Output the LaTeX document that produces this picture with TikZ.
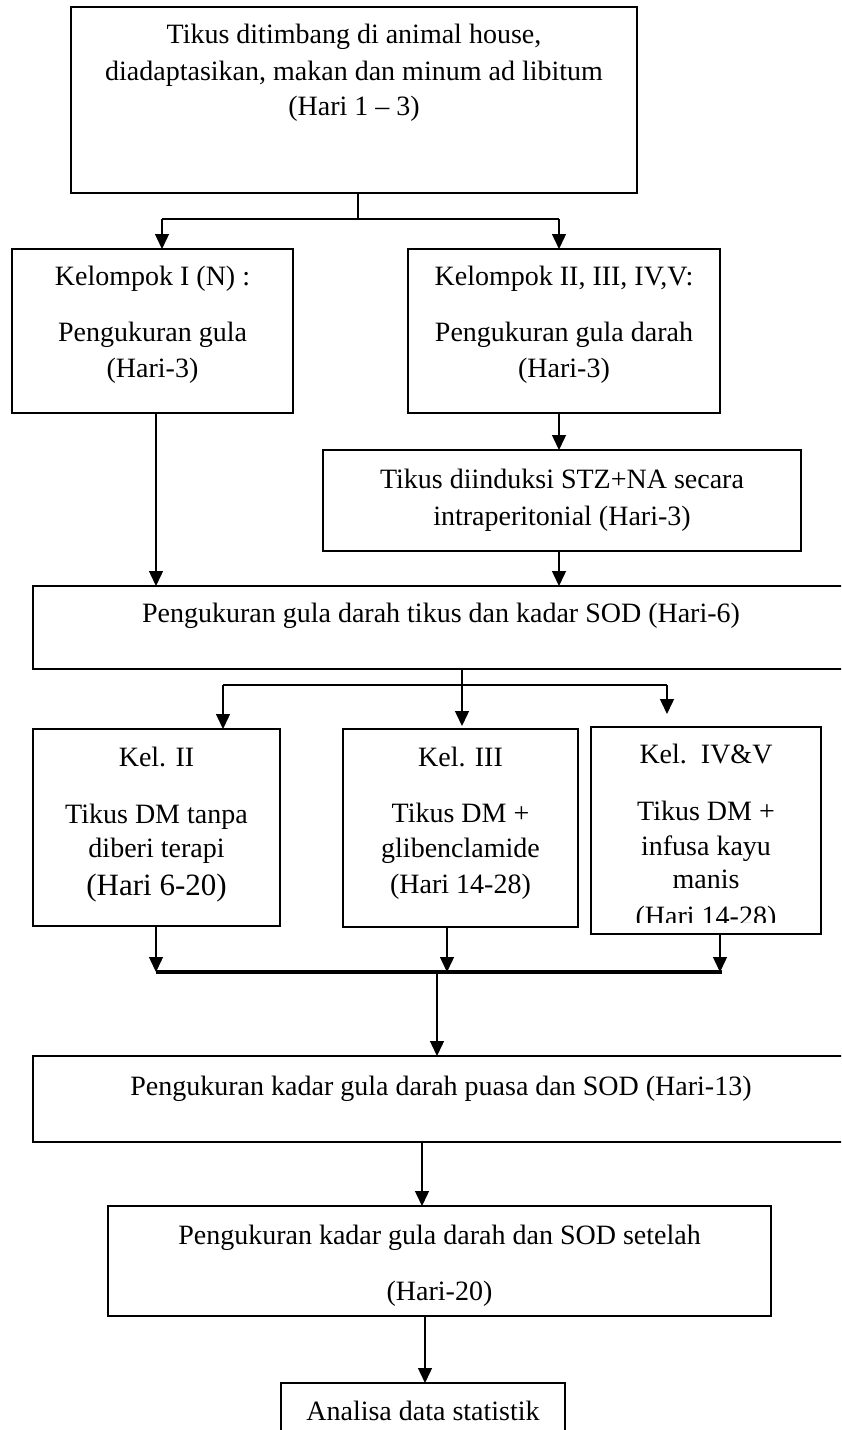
\documentclass[tikz,border=0pt]{standalone}
\usepackage{fontspec}
\setmainfont{Liberation Serif}
\usetikzlibrary{arrows.meta}
\begin{document}
\begin{tikzpicture}[x=1pt,y=-1pt,
  box/.style={draw,line width=1.5pt,inner sep=0pt,outer sep=0pt},
  txt/.style={anchor=base,inner sep=0pt,font=\fontsize{28}{34}\selectfont},
  bigtxt/.style={anchor=base,inner sep=0pt,font=\fontsize{31}{37}\selectfont},
  ln/.style={line width=1.4pt},
  arr/.style={line width=1.4pt,-{Triangle[length=15pt,width=14pt]}},
  bar/.style={line width=3.2pt}
]
\clip (0,0) rectangle (841,1430);
\fill[white] (0,0) rectangle (841,1430);

% boxes
\node[box,minimum width=566pt,minimum height=186pt] (top) at (354,100) {};
\node[box,minimum width=281pt,minimum height=164pt] (k1) at (152.5,331) {};
\node[box,minimum width=312pt,minimum height=164pt] (k2) at (564,331) {};
\node[box,minimum width=478pt,minimum height=101pt] (stz) at (562,500.5) {};
\node[box,minimum width=816pt,minimum height=83pt] (b6) at (441,627.5) {};
\node[box,minimum width=247pt,minimum height=197pt] (g2) at (156.5,827.5) {};
\node[box,minimum width=235pt,minimum height=198pt] (g3) at (460.5,828) {};
\node[box,minimum width=230pt,minimum height=207pt] (g4) at (706,830.5) {};
\node[box,minimum width=816pt,minimum height=86pt] (p13) at (441,1099) {};
\node[box,minimum width=663pt,minimum height=110pt] (h20) at (439.5,1261) {};
\node[box,minimum width=284pt,minimum height=100pt] (an) at (423,1433) {};

% texts
\node[txt] (top1) at (354,43) {Tikus ditimbang di animal house,};
\node[txt] (top2) at (354,80) {diadaptasikan, makan dan minum ad libitum};
\node[txt] (top3) at (354,115) {(Hari 1 -- 3)};

\node[txt] (k1a) at (152.5,285) {Kelompok I (N) :};
\node[txt] (k1b) at (152.5,341) {Pengukuran gula};
\node[txt] (k1c) at (152.5,377) {(Hari-3)};

\node[txt] (k2a) at (564,285) {Kelompok II, III, IV,V:};
\node[txt] (k2b) at (564,341) {Pengukuran gula darah};
\node[txt] (k2c) at (564,377) {(Hari-3)};

\node[txt] (stza) at (562,488) {Tikus diinduksi STZ+NA secara};
\node[txt] (stzb) at (562,525) {intraperitonial (Hari-3)};

\node[txt] (b6a) at (441,622) {Pengukuran gula darah tikus dan kadar SOD (Hari-6)};

\node[txt] (g2a) at (156.5,766) {Kel. II};
\node[txt] (g2b) at (156.5,823) {Tikus DM tanpa};
\node[txt] (g2c) at (156.5,857) {diberi terapi};
\node[bigtxt] (g2d) at (156.5,895) {(Hari 6-20)};

\node[txt] (g3a) at (460.5,766) {Kel. III};
\node[txt] (g3b) at (460.5,822) {Tikus DM +};
\node[txt] (g3c) at (460.5,857) {glibenclamide};
\node[txt] (g3d) at (460.5,893) {(Hari 14-28)};

\node[txt] (g4a) at (706,763) {Kel.\ \ IV\&V};
\node[txt] (g4b) at (706,820) {Tikus DM +};
\node[txt] (g4c) at (706,855) {infusa kayu};
\node[txt] (g4d) at (706,888) {manis};
\begin{scope}
\clip (591,727) rectangle (821,922);
\node[txt] (g4e) at (706,925) {(Hari 14-28)};
\end{scope}

\node[txt] (p13a) at (441,1095) {Pengukuran kadar gula darah puasa dan SOD (Hari-13)};

\node[txt] (h20a) at (439.5,1244) {Pengukuran kadar gula darah dan SOD setelah};
\node[txt] (h20b) at (439.5,1300) {(Hari-20)};

\node[txt] (ana) at (423,1420) {Analisa data statistik};

% connectors: top split
\coordinate (j1) at (358,219);
\coordinate (j1l) at (162,219);
\coordinate (j1r) at (559,219);
\draw[ln] (top.south -| j1) -- (j1);
\draw[ln] (j1l) -- (j1r);
\draw[arr] (j1l) -- (j1l |- k1.north);
\draw[arr] (j1r) -- (j1r |- k2.north);

\coordinate (xa) at (156,0);
\coordinate (xb) at (559,0);
\draw[arr] (k1.south -| xa) -- (b6.north -| xa);
\draw[arr] (k2.south -| xb) -- (stz.north -| xb);
\draw[arr] (stz.south -| xb) -- (b6.north -| xb);

% second split
\coordinate (j2) at (462,685);
\coordinate (j2l) at (223,685);
\coordinate (j2r) at (667,685);
\coordinate (e2) at (462,726);
\coordinate (e3) at (667,714);
\draw[ln] (b6.south -| j2) -- (j2);
\draw[ln] (j2l) -- (j2r);
\draw[arr] (j2l) -- (j2l |- g2.north);
\draw[arr] (j2) -- (e2);
\draw[arr] (j2r) -- (e3);

% merge bar
\coordinate (bl) at (156,972);
\coordinate (br) at (722,972);
\coordinate (b2) at (447,972);
\coordinate (b3) at (720,972);
\coordinate (bm) at (437,972);
\draw[bar] (bl) -- (br);
\draw[arr] (g2.south -| bl) -- (bl);
\draw[arr] (g3.south -| b2) -- (b2);
\draw[arr] (g4.south -| b3) -- (b3);
\draw[arr] (bm) -- (bm |- p13.north);

\coordinate (xc) at (422,0);
\coordinate (xd) at (425,0);
\draw[arr] (p13.south -| xc) -- (h20.north -| xc);
\draw[arr] (h20.south -| xd) -- (an.north -| xd);
\end{tikzpicture}
\end{document}
